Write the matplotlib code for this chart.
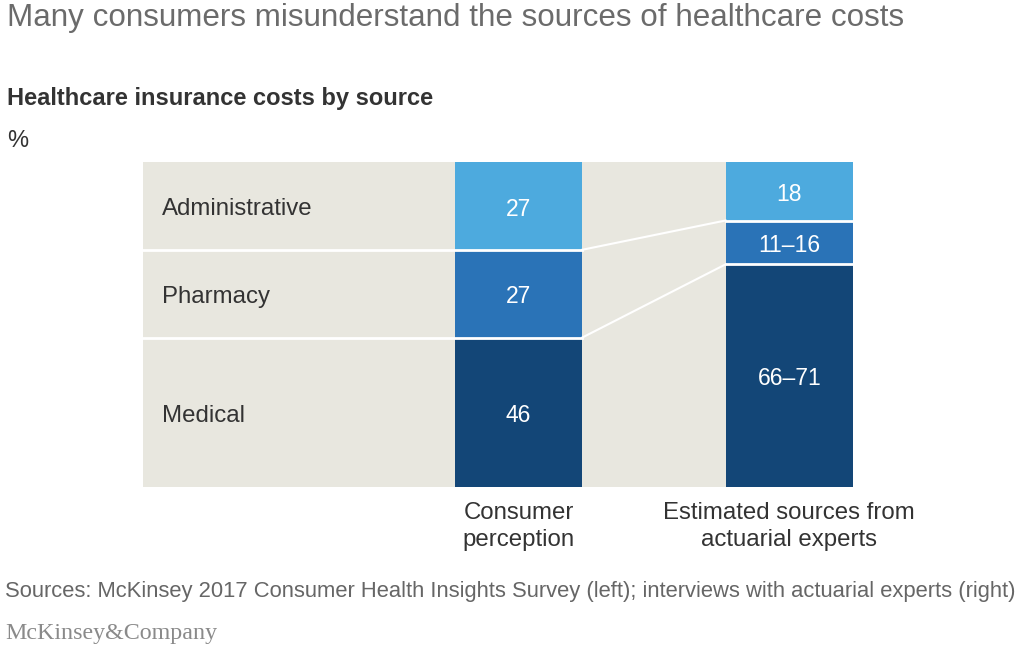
import matplotlib.pyplot as plt
import numpy as np

plt.rcParams['font.family'] = ['Liberation Sans', 'DejaVu Sans']

categories = ["Administrative", "Pharmacy", "Medical"]
bar_names = ["Consumer\nperception", "Estimated sources from\nactuarial experts"]
consumer = [27, 27, 46]
# expert ranges drawn at their midpoints
experts = [18, 13.5, 68.5]
consumer_labels = ["27", "27", "46"]
expert_labels = ["18", "11–16", "66–71"]
colors = ["#4DAADE", "#2A73B7", "#134677"]

W, H = 1024, 652
fig = plt.figure(figsize=(W / 100, H / 100), dpi=100)
ax = fig.add_axes([143 / W, 1 - 487 / H, 710 / W, 325 / H])
ax.set_facecolor("#E8E7DF")

x = np.array([0, 1])
bw = 0.471
left = -1.388
ax.set_xlim(left, 1 + bw / 2)
ax.set_ylim(100, 0)
dy = 1.0  # small nudge so labels sit like the original

for i, vals in enumerate([consumer, experts]):
    bottom = 0
    labs = consumer_labels if i == 0 else expert_labels
    for v, c, lab in zip(vals, colors, labs):
        ax.bar(x[i], v, bottom=bottom, width=bw, color=c, edgecolor="none")
        ax.text(x[i], bottom + v / 2 + dy, lab, ha="center", va="center", color="white", fontsize=16.5)
        bottom += v

# row separators and connectors
cb = np.cumsum(consumer)[:-1]
eb = np.cumsum(experts)[:-1]
for a, b in zip(cb, eb):
    ax.plot([left, x[0] + bw / 2], [a, a], color="white", lw=2)
    ax.plot([x[0] + bw / 2, x[1] - bw / 2], [a, b], color="white", lw=1.5)
    ax.plot([x[1] - bw / 2, x[1] + bw / 2], [b, b], color="white", lw=2)

starts = np.concatenate([[0], np.cumsum(consumer)[:-1]])
for cat, s, v in zip(categories, starts, consumer):
    ax.text(left + 0.07, s + v / 2 + dy, cat, ha="left", va="center", fontsize=17.3, color="#333333")

ax.set_xticks([])
ax.set_yticks([])
for sp in ax.spines.values():
    sp.set_visible(False)

for xi, name in zip(x, bar_names):
    ax.text(xi, 104.5, name, ha="center", va="top", fontsize=17.3, color="#333333", linespacing=1.32)

fig.text(7 / W, 1 - 18 / H, "Many consumers misunderstand the sources of healthcare costs",
         fontsize=22.6, color="#6B6B6B", va="center")
fig.text(7 / W, 1 - 98 / H, "Healthcare insurance costs by source",
         fontsize=17, fontweight="bold", color="#333333", va="center")
fig.text(7 / W, 1 - 141 / H, "%", fontsize=17, color="#333333", va="center")
fig.text(5 / W, 1 - 592 / H,
         "Sources: McKinsey 2017 Consumer Health Insights Survey (left); interviews with actuarial experts (right)",
         fontsize=15.8, color="#666666", va="center")
fig.text(5 / W, 1 - 633 / H, "McKinsey&Company", fontsize=17.3, color="#8A8A8A", va="center",
         family=["Liberation Serif", "DejaVu Serif"])

fig.savefig("out.png", dpi=100)
